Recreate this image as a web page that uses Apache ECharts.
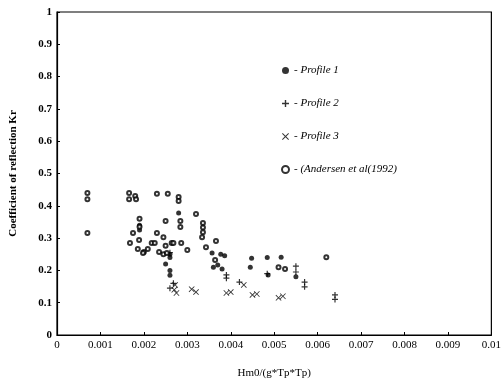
<!DOCTYPE html>
<html>
<head>
<meta charset="utf-8">
<script src="https://cdn.jsdelivr.net/npm/echarts@6/dist/echarts.min.js"></script>
<style>html,body{margin:0;padding:0;background:#fff}#c{width:504px;height:387px}</style>
</head>
<body>
<div id="c"></div>
<script>
const xTicks = [0,0.001,0.002,0.003,0.004,0.005,0.006,0.007,0.008,0.009,0.01];
const yTicks = [0,0.1,0.2,0.3,0.4,0.5,0.6,0.7,0.8,0.9,1];
const seriesNames = ["Profile 1","Profile 2","Profile 3","(Andersen et al(1992)"];
const profile1 = [[0.0028,0.378],[0.0019,0.34],[0.0019,0.325],[0.0026,0.25],[0.0026,0.24],[0.0025,0.22],[0.0026,0.2],[0.0026,0.185],[0.00357,0.254],[0.00377,0.25],[0.00386,0.245],[0.0036,0.21],[0.0037,0.217],[0.0038,0.204],[0.00448,0.238],[0.00445,0.21],[0.00484,0.24],[0.00516,0.241],[0.00486,0.186],[0.0055,0.18]];
const profile2 = [[0.0026,0.255],[0.0039,0.186],[0.0039,0.176],[0.00484,0.19],[0.0055,0.213],[0.0055,0.195],[0.0057,0.164],[0.0057,0.149],[0.0064,0.124],[0.0064,0.11],[0.0042,0.164],[0.00268,0.16],[0.0026,0.145]];
const profile3 = [[0.00272,0.155],[0.0027,0.14],[0.00275,0.13],[0.0031,0.142],[0.0032,0.133],[0.0039,0.13],[0.004,0.133],[0.0045,0.124],[0.0046,0.127],[0.0051,0.115],[0.0052,0.12],[0.0043,0.155]];
const andersen = [[0.0007,0.44],[0.0007,0.42],[0.0007,0.316],[0.00166,0.44],[0.00166,0.42],[0.0018,0.43],[0.00182,0.42],[0.00175,0.316],[0.00168,0.285],[0.00189,0.294],[0.00186,0.266],[0.0019,0.36],[0.0019,0.335],[0.0023,0.437],[0.00255,0.437],[0.0028,0.427],[0.0028,0.415],[0.0032,0.375],[0.0025,0.353],[0.00284,0.353],[0.00284,0.334],[0.00336,0.347],[0.00336,0.333],[0.00336,0.318],[0.00334,0.303],[0.0023,0.316],[0.00245,0.303],[0.00218,0.285],[0.00225,0.285],[0.00264,0.285],[0.00268,0.285],[0.00286,0.285],[0.003,0.263],[0.00343,0.272],[0.00209,0.266],[0.002,0.257],[0.00198,0.254],[0.00235,0.257],[0.00245,0.25],[0.00253,0.254],[0.0025,0.276],[0.00364,0.232],[0.00366,0.291],[0.0051,0.21],[0.00525,0.204],[0.0062,0.241]];

const plusPath = 'path://M4,0H6V4H10V6H6V10H4V6H0V4H4Z';
const xPath = 'path://M1,0L5,4L9,0L10,1L6,5L10,9L9,10L5,6L1,10L0,9L4,5L0,1Z';
const serif = '"Liberation Serif", "DejaVu Serif", serif';

const chart = echarts.init(document.getElementById('c'), null, {renderer:'canvas'});
chart.setOption({
  animation:false,
  backgroundColor:'#fff',
  grid:{left:55,right:9,top:12,bottom:52,show:true,borderColor:'#000',borderWidth:1.2},
  legend:{
    orient:'vertical', left:276, top:59, itemGap:20,
    itemWidth:7, itemHeight:7,
    data:[
      {name:seriesNames[0], icon:'circle'},
      {name:seriesNames[1], icon:plusPath},
      {name:seriesNames[2], icon:xPath},
      {name:seriesNames[3], icon:'emptyCircle'}
    ],
    formatter:n=>'- '+n,
    textStyle:{fontFamily:serif,fontStyle:'italic',fontSize:11,color:'#000',lineHeight:13}
  },
  xAxis:{
    type:'value', min:0, max:0.01, interval:0.001,
    name:'Hm0/(g*Tp*Tp)', nameLocation:'middle', nameGap:33,
    nameTextStyle:{fontFamily:serif,fontSize:11,color:'#000'},
    axisLine:{lineStyle:{color:'#000',width:1.2}},
    axisTick:{inside:true,length:3,lineStyle:{color:'#000'}},
    splitLine:{show:false},
    axisLabel:{color:'#000',fontFamily:serif,fontSize:11,margin:5,
      formatter:v=>{const i=xTicks.findIndex(t=>Math.abs(t-v)<1e-9);return i>=0?String(xTicks[i]):'';}}
  },
  yAxis:{
    type:'value', min:0, max:1, interval:0.1,
    name:'Coefficient of reflection Kr', nameLocation:'middle', nameGap:38,
    nameTextStyle:{fontFamily:serif,fontSize:11,color:'#000',fontWeight:'bold'},
    axisLine:{lineStyle:{color:'#000',width:1.2}},
    axisTick:{inside:true,length:3,lineStyle:{color:'#000'}},
    splitLine:{show:false},
    axisLabel:{color:'#000',fontFamily:serif,fontSize:11,margin:5,fontWeight:'bold',
      formatter:v=>{const i=yTicks.findIndex(t=>Math.abs(t-v)<1e-9);return i>=0?String(yTicks[i]):'';}}
  },
  series:[
    {name:seriesNames[0],type:'scatter',data:profile1,symbol:'circle',symbolSize:5,itemStyle:{color:'#000'}},
    {name:seriesNames[1],type:'scatter',data:profile2,symbol:plusPath,symbolSize:6,itemStyle:{color:'#000'}},
    {name:seriesNames[2],type:'scatter',data:profile3,symbol:xPath,symbolSize:6,itemStyle:{color:'#000'}},
    {name:seriesNames[3],type:'scatter',data:andersen,symbol:'emptyCircle',symbolSize:4,itemStyle:{color:'#000',borderColor:'#000',borderWidth:1.1}}
  ]
});
</script>
</body>
</html>
